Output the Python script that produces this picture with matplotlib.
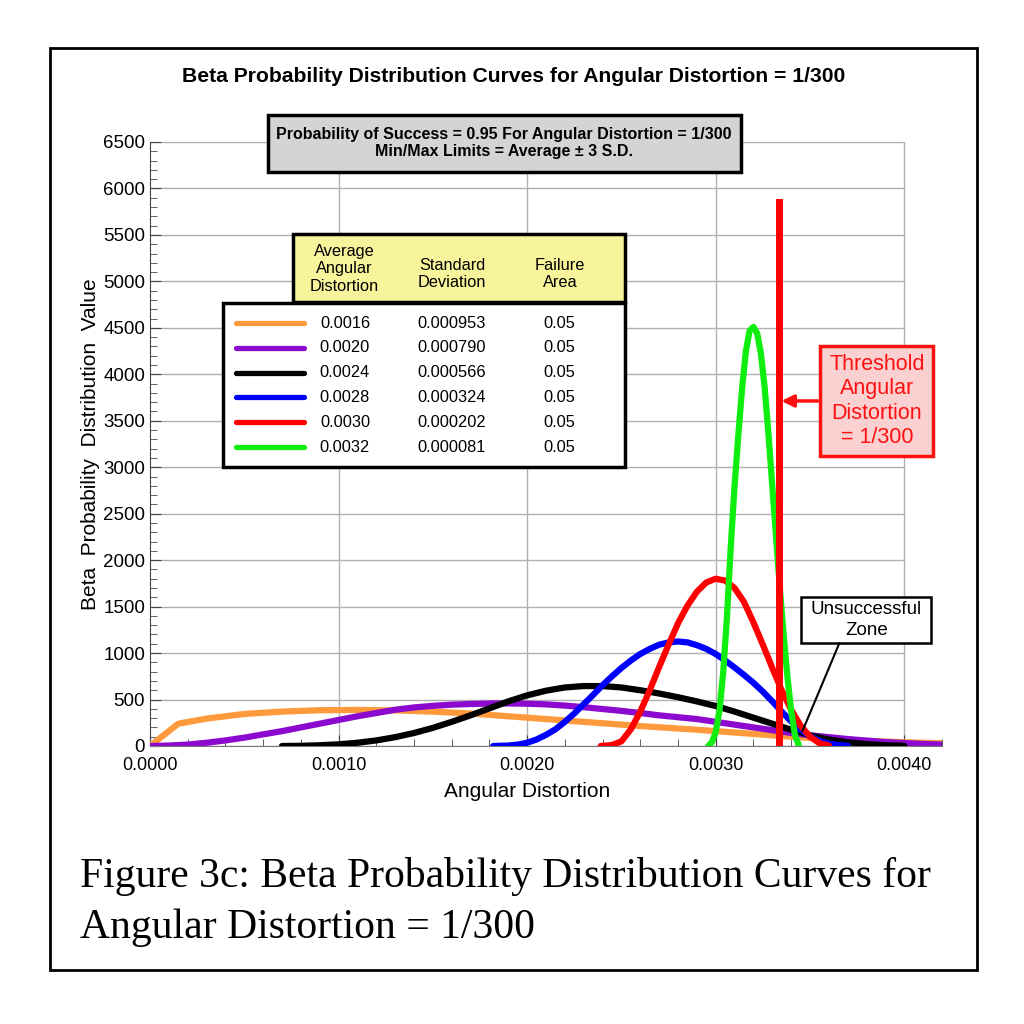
import matplotlib
matplotlib.use("Agg")
import matplotlib.pyplot as plt
from matplotlib.patches import Rectangle
from matplotlib.lines import Line2D
from matplotlib.ticker import MultipleLocator, FormatStrFormatter

plt.rcParams['font.family'] = ['Liberation Sans', 'DejaVu Sans']

# Curve data (angular distortion, beta pdf value)
orange_x = [0, 0.00015, 0.0003, 0.0005, 0.0007, 0.0009, 0.0011, 0.0013, 0.0015, 0.0017,
            0.0020, 0.0023, 0.0026, 0.0029, 0.0032, 0.0034, 0.0036, 0.0038, 0.0040, 0.0042]
orange_y = [0, 240, 295, 345, 370, 385, 388, 383, 370, 350,
            305, 260, 215, 175, 130, 100, 75, 55, 40, 30]

purple_x = [0, 0.0001, 0.0002, 0.0003, 0.0004, 0.0005, 0.0006, 0.0007, 0.0008, 0.0009,
            0.0010, 0.0011, 0.0012, 0.0013, 0.0014, 0.0015, 0.0016, 0.0017, 0.0018, 0.0019,
            0.0020, 0.0021, 0.0022, 0.0023, 0.0024, 0.0025, 0.0026, 0.0027, 0.0028, 0.0029,
            0.0030, 0.0031, 0.0032, 0.0033, 0.0034, 0.0035, 0.0036, 0.0037, 0.0038, 0.0039,
            0.0040, 0.0041, 0.0042]
purple_y = [0, 5, 15, 35, 60, 90, 125, 160, 200, 240,
            280, 320, 355, 390, 415, 432, 445, 452, 457, 458,
            455, 448, 435, 418, 398, 378, 355, 330, 310, 290,
            260, 230, 200, 170, 140, 115, 95, 75, 58, 42,
            32, 22, 15]

black_x = [0.0007, 0.0008, 0.0009, 0.0010, 0.0011, 0.0012, 0.0013, 0.0014, 0.0015, 0.0016,
           0.0017, 0.0018, 0.0019, 0.0020, 0.0021, 0.0022, 0.0023, 0.0024, 0.0025, 0.0026,
           0.0027, 0.0028, 0.0029, 0.0030, 0.0031, 0.0032, 0.0033, 0.0034, 0.0035, 0.0036,
           0.0037, 0.0038, 0.0039, 0.0040]
black_y = [0, 2, 8, 18, 35, 60, 95, 140, 195, 260,
           330, 405, 480, 545, 595, 630, 645, 645, 630, 600,
           565, 525, 480, 430, 370, 305, 240, 175, 115, 70,
           40, 20, 8, 2]

blue_x = [0.00182, 0.0019, 0.00195, 0.0020, 0.00205, 0.0021, 0.00215, 0.0022, 0.00225, 0.0023,
          0.00235, 0.0024, 0.00245, 0.0025, 0.00255, 0.0026, 0.00265, 0.0027, 0.00275, 0.0028,
          0.00285, 0.0029, 0.00295, 0.0030, 0.00305, 0.0031, 0.00315, 0.0032, 0.00325, 0.0033,
          0.00335, 0.0034, 0.00345, 0.0035, 0.00355, 0.0036, 0.00365, 0.0037]
blue_y = [0, 5, 15, 35, 70, 120, 180, 260, 350, 450,
          550, 655, 750, 840, 920, 990, 1045, 1090, 1115, 1125,
          1115, 1085, 1045, 990, 920, 845, 765, 680, 585, 480,
          370, 265, 175, 105, 55, 25, 10, 3]

red_x = [0.00239, 0.00245, 0.0025, 0.00255, 0.0026, 0.00265, 0.0027, 0.00275, 0.0028, 0.00285,
         0.0029, 0.00295, 0.0030, 0.00305, 0.0031, 0.00315, 0.0032, 0.00325, 0.0033, 0.00335,
         0.0034, 0.00345, 0.0035, 0.00355, 0.0036]
red_y = [0, 10, 50, 180, 370, 600, 850, 1090, 1320, 1510,
         1660, 1760, 1800, 1780, 1700, 1550, 1330, 1090, 840, 600,
         390, 220, 100, 30, 5]

green_x = [0.00296, 0.00298, 0.0030, 0.00302, 0.00304, 0.00306, 0.00308, 0.0031, 0.00312, 0.00314,
           0.00316, 0.00318, 0.0032, 0.00322, 0.00324, 0.00326, 0.00328, 0.0033, 0.00332, 0.00334,
           0.00336, 0.00338, 0.0034, 0.00342, 0.00344]
green_y = [0, 40, 150, 380, 800, 1400, 2150, 2800, 3350, 3850,
           4250, 4470, 4510, 4440, 4220, 3850, 3350, 2800, 2250, 1700,
           1200, 750, 380, 120, 10]

# legend table
avg_distortion = ["0.0016", "0.0020", "0.0024", "0.0028", "0.0030", "0.0032"]
std_dev = ["0.000953", "0.000790", "0.000566", "0.000324", "0.000202", "0.000081"]
failure_area = ["0.05", "0.05", "0.05", "0.05", "0.05", "0.05"]
colors = ["#ff9a3c", "#8c0ad0", "#000000", "#0000ff", "#ff0000", "#10ee10"]

threshold = 1 / 300
threshold_top = 5850

curves = [(orange_x, orange_y), (purple_x, purple_y), (black_x, black_y),
          (blue_x, blue_y), (red_x, red_y), (green_x, green_y)]

fig = plt.figure(figsize=(10.24, 10.24), dpi=100)


def fx(px):
    return px / 1024


def fy(py):
    return 1 - py / 1024


ax = fig.add_axes([fx(150), fy(746), fx(942) - fx(150), fy(142) - fy(746)])

# grid (only up to 0.0040, like the original)
for yv in range(0, 6501, 500):
    ax.plot([0, 0.004], [yv, yv], color="#b0b0b0", lw=1, zorder=0)
for xv in [0.001, 0.002, 0.003, 0.004]:
    ax.plot([xv, xv], [0, 6500], color="#b0b0b0", lw=1, zorder=0)

for (x, y), c in zip(curves, colors):
    ax.plot(x, y, color=c, lw=4.5, solid_capstyle="round", solid_joinstyle="round", zorder=3)

ax.plot([threshold, threshold], [0, threshold_top], color="#ff0000", lw=5, zorder=4)

ax.set_xlim(0, 0.0042)
ax.set_ylim(0, 6500)
for s in ["top", "right"]:
    ax.spines[s].set_visible(False)
ax.spines["left"].set_color("#444444")
ax.spines["bottom"].set_color("#777777")

ax.xaxis.set_major_locator(MultipleLocator(0.001))
ax.xaxis.set_minor_locator(MultipleLocator(0.0002))
ax.xaxis.set_major_formatter(FormatStrFormatter("%.4f"))
ax.yaxis.set_major_locator(MultipleLocator(500))
ax.yaxis.set_minor_locator(MultipleLocator(100))
ax.tick_params(which="both", direction="in", color="#444444")
ax.tick_params(axis="y", labelsize=13.5)
ax.tick_params(axis="x", labelsize=13, pad=8)
ax.tick_params(which="major", length=8)
ax.tick_params(which="minor", length=5)

ax.set_xlabel("Angular Distortion", fontsize=15, labelpad=6, x=0.476)
ax.set_ylabel("Beta  Probability  Distribution  Value", fontsize=15, labelpad=2)

# threshold annotation box
ax.add_patch(Rectangle((0.003555, 3121), 0.004154 - 0.003555, 4305 - 3121, fc="#fbd0d0",
                       ec="#ff1010", lw=2.5, clip_on=False, zorder=6))
ax.text((0.003555 + 0.004154) / 2, 3713, "Threshold\nAngular\nDistortion\n= 1/300",
        ha="center", va="center", color="#ff1010", fontsize=15.5, linespacing=1.2, zorder=7)
ax.annotate("", xy=(threshold + 0.000015, 3713), xytext=(0.00354, 3713),
            arrowprops=dict(arrowstyle="-|>", color="#ff1010", lw=2.5, mutation_scale=18,
                            shrinkA=0, shrinkB=0), zorder=6)

# unsuccessful zone box
ax.add_patch(Rectangle((0.003454, 1109), 0.004143 - 0.003454, 1604 - 1109, fc="white",
                       ec="black", lw=1.8, clip_on=False, zorder=6))
ax.text((0.003454 + 0.004143) / 2, 1356, "Unsuccessful\nZone", ha="center", va="center",
        fontsize=13.5, linespacing=1.35, zorder=7)
ax.annotate("", xy=(0.00346, 161), xytext=(0.003656, 1108),
            arrowprops=dict(arrowstyle="-", color="black", lw=1.5, shrinkA=0, shrinkB=0),
            zorder=6)

# title
fig.text(fx(514), fy(76), "Beta Probability Distribution Curves for Angular Distortion = 1/300",
         ha="center", va="center", fontsize=15.2, fontweight="bold")

# grey info box
fig.patches.append(Rectangle((fx(268), fy(172)), fx(741) - fx(268), fy(115) - fy(172),
                             transform=fig.transFigure, fc="#d4d4d4", ec="black", lw=2.5, zorder=5))
fig.text(fx(504), fy(143), "Probability of Success = 0.95 For Angular Distortion = 1/300\n"
         "Min/Max Limits = Average \u00b1 3 S.D.", ha="center", va="center",
         fontsize=11.5, fontweight="bold", linespacing=1.2, zorder=6)

# legend table
fig.patches.append(Rectangle((fx(293), fy(302)), fx(625) - fx(293), fy(234) - fy(302),
                             transform=fig.transFigure, fc="#f8f49c", ec="black", lw=2.5, zorder=5))
fig.patches.append(Rectangle((fx(223), fy(467)), fx(625) - fx(223), fy(303) - fy(467),
                             transform=fig.transFigure, fc="white", ec="black", lw=2.5, zorder=5))
fig.text(fx(344), fy(269), "Average\nAngular\nDistortion", ha="center", va="center",
         fontsize=11.8, linespacing=1.2, zorder=6)
fig.text(fx(452), fy(274), "Standard\nDeviation", ha="center", va="center",
         fontsize=11.8, linespacing=1.2, zorder=6)
fig.text(fx(560), fy(274), "Failure\nArea", ha="center", va="center",
         fontsize=11.8, linespacing=1.2, zorder=6)
for i in range(len(colors)):
    py = 323 + 24.8 * i
    fig.lines.append(Line2D([fx(236), fx(304)], [fy(py), fy(py)], transform=fig.transFigure,
                            color=colors[i], lw=3.8, solid_capstyle="round", zorder=6))
    fig.text(fx(345), fy(py), avg_distortion[i], ha="center", va="center", fontsize=11.8, zorder=6)
    fig.text(fx(452), fy(py), std_dev[i], ha="center", va="center", fontsize=11.8, zorder=6)
    fig.text(fx(559), fy(py), failure_area[i], ha="center", va="center", fontsize=11.8, zorder=6)

# caption
fig.text(fx(80), fy(876), "Figure 3c: Beta Probability Distribution Curves for",
         ha="left", va="center", fontsize=30, family="Liberation Serif")
fig.text(fx(80), fy(928), "Angular Distortion = 1/300",
         ha="left", va="center", fontsize=30, family="Liberation Serif")

# outer frame
fig.patches.append(Rectangle((fx(50), fy(970)), fx(977) - fx(50), fy(48) - fy(970),
                             transform=fig.transFigure, fill=False, ec="black", lw=2))

fig.savefig("out.png", dpi=100)
